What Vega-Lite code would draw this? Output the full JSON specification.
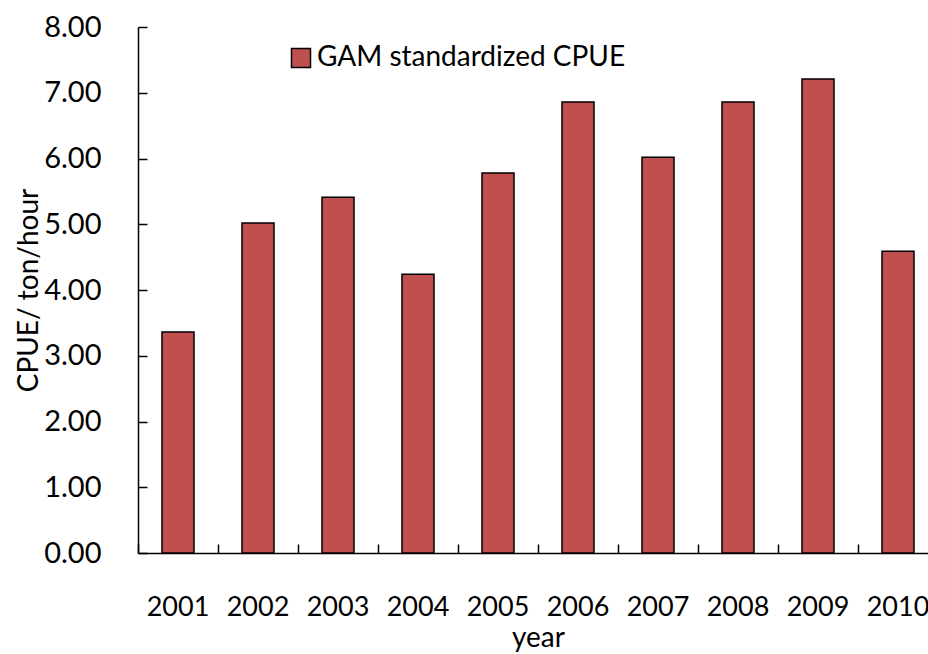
{
  "$schema": "https://vega.github.io/schema/vega-lite/v6.json",
  "autosize": "none",
  "width": 800,
  "height": 526,
  "padding": {"left": 138, "top": 27, "right": 0, "bottom": 101},
  "background": "white",
  "config": {
    "font": "Lato",
    "view": {"stroke": null},
    "axis": {"labelFont": "Lato", "titleFont": "Lato", "labelColor": "black", "titleColor": "black", "domainColor": "black", "tickColor": "black", "grid": false}
  },
  "data": {
    "values": [
      {"year": "2001", "cpue": 3.36, "series": "GAM standardized CPUE"},
      {"year": "2002", "cpue": 5.02, "series": "GAM standardized CPUE"},
      {"year": "2003", "cpue": 5.41, "series": "GAM standardized CPUE"},
      {"year": "2004", "cpue": 4.24, "series": "GAM standardized CPUE"},
      {"year": "2005", "cpue": 5.78, "series": "GAM standardized CPUE"},
      {"year": "2006", "cpue": 6.86, "series": "GAM standardized CPUE"},
      {"year": "2007", "cpue": 6.02, "series": "GAM standardized CPUE"},
      {"year": "2008", "cpue": 6.86, "series": "GAM standardized CPUE"},
      {"year": "2009", "cpue": 7.21, "series": "GAM standardized CPUE"},
      {"year": "2010", "cpue": 4.59, "series": "GAM standardized CPUE"}
    ]
  },
  "mark": {"type": "bar", "stroke": "black", "strokeWidth": 1.5},
  "encoding": {
    "x": {
      "field": "year", "type": "ordinal",
      "scale": {"paddingInner": 0.6, "paddingOuter": 0.3},
      "axis": {
        "title": "year", "labelAngle": 0, "labelFontSize": 27, "titleFontSize": 28,
        "titleFontWeight": "normal", "labelPadding": 50, "titlePadding": 4,
        "tickSize": -9, "tickWidth": 1.5, "domainWidth": 1.5, "bandPosition": -0.75
      }
    },
    "y": {
      "field": "cpue", "type": "quantitative",
      "scale": {"domain": [0, 8], "nice": false},
      "axis": {
        "title": "CPUE/ ton/hour", "format": ".2f", "values": [0,1,2,3,4,5,6,7,8],
        "labelFontSize": 29, "titleFontSize": 28, "titleFontWeight": "normal",
        "labelPadding": 46, "tickSize": -9, "tickWidth": 1.5, "domainWidth": 1.5,
        "titlePadding": 0
      }
    },
    "color": {
      "field": "series", "type": "nominal",
      "scale": {"range": ["#C0504D"]},
      "legend": {
        "title": null, "orient": "none", "legendX": 149, "legendY": 17,
        "symbolType": "square", "symbolSize": 361, "symbolStrokeColor": "black",
        "symbolStrokeWidth": 1.5, "labelFontSize": 28, "labelColor": "black",
        "labelFont": "Lato", "labelLimit": 500, "labelOffset": 2
      }
    }
  }
}
